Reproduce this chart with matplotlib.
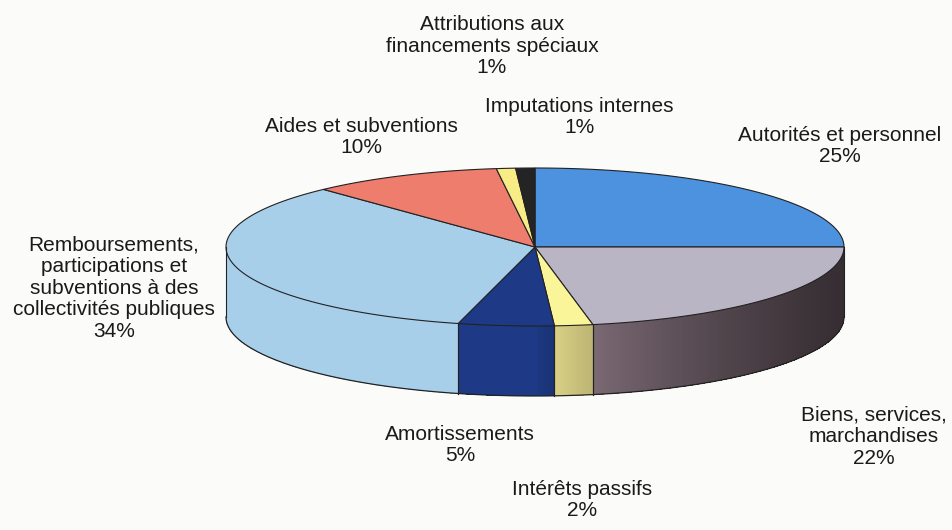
import numpy as np
import matplotlib.pyplot as plt
from matplotlib.patches import Polygon
from matplotlib.colors import to_rgb

# données du graphique (en %)
categories = ['Autorités et personnel', 'Biens, services,\nmarchandises', 'Intérêts passifs',
              'Amortissements',
              'Remboursements,\nparticipations et\nsubventions à des\ncollectivités publiques',
              'Aides et subventions', 'Attributions aux\nfinancements spéciaux',
              'Imputations internes']
valeurs = [25, 22, 2, 5, 34, 10, 1, 1]
couleurs = ['#4c92de', '#bab5c4', '#fbf59a', '#1e3a86', '#a8cfe9', '#ef7d6e', '#f7ec86', '#242424']
# couleur de base des côtés (avant ombrage)
couleurs_cote = ['#4c92de', '#a48c9a', '#fbf09a', '#1e3a86', '#a8cfe9', '#ef7d6e', '#f7ec86', '#242424']
# position des étiquettes (pixels)
pos_etiq = [(840, 146), (874, 437), (582, 500), (460, 445), (114, 288), (361, 137), (492, 46), (579, 117)]

W, H = 952, 530
fig = plt.figure(figsize=(W / 100, H / 100), dpi=100)
fig.patch.set_facecolor('#fbfbfa')
ax = fig.add_axes([0, 0, 1, 1])
ax.set_xlim(0, W)
ax.set_ylim(H, 0)
ax.axis('off')

cx, cy, rx, ry, prof = 535, 247, 309, 79, 70


def pt(t, dy=0):
    t = np.radians(t)
    return cx + rx * np.sin(t), cy - ry * np.cos(t) + dy


def ombre(c, t):
    s = np.sin(np.radians(t))
    f = 1.0 if s <= 0 else 1 - 0.68 * s ** 0.6
    return tuple(np.array(to_rgb(c)) * f)


bornes = np.concatenate([[0], np.cumsum(valeurs)]) * 3.6

# côtés (moitié avant)
for i, c in enumerate(couleurs_cote):
    a0, a1 = max(bornes[i], 90), min(bornes[i + 1], 270)
    if a1 <= a0:
        continue
    ts = np.linspace(a0, a1, int((a1 - a0) * 2) + 2)
    for j in range(len(ts) - 1):
        p = [pt(ts[j]), pt(ts[j + 1]), pt(ts[j + 1], prof), pt(ts[j], prof)]
        ax.add_patch(Polygon(p, closed=True, facecolor=ombre(c, (ts[j] + ts[j + 1]) / 2),
                             edgecolor='none', antialiased=False))
    ax.plot(*zip(pt(a0), pt(a0, prof)), color='#222222', lw=0.8)
    ax.plot(*zip(pt(a1), pt(a1, prof)), color='#222222', lw=0.8)

ts = np.linspace(90, 270, 300)
ax.plot(*zip(*[pt(t, prof) for t in ts]), color='#222222', lw=0.9)

# faces supérieures
for i, c in enumerate(couleurs):
    ts = np.linspace(bornes[i], bornes[i + 1], max(int(valeurs[i] * 4), 3))
    p = [(cx, cy)] + [pt(t) for t in ts]
    ax.add_patch(Polygon(p, closed=True, facecolor=c, edgecolor='#222222', lw=0.8))

for nom, v, (x, y) in zip(categories, valeurs, pos_etiq):
    ax.text(x, y, f'{nom}\n{v}%', ha='center', va='center', fontsize=15,
            family='Liberation Sans', color='#1a1a1a', linespacing=1.18)

fig.savefig('out.png', dpi=100, facecolor=fig.get_facecolor())
